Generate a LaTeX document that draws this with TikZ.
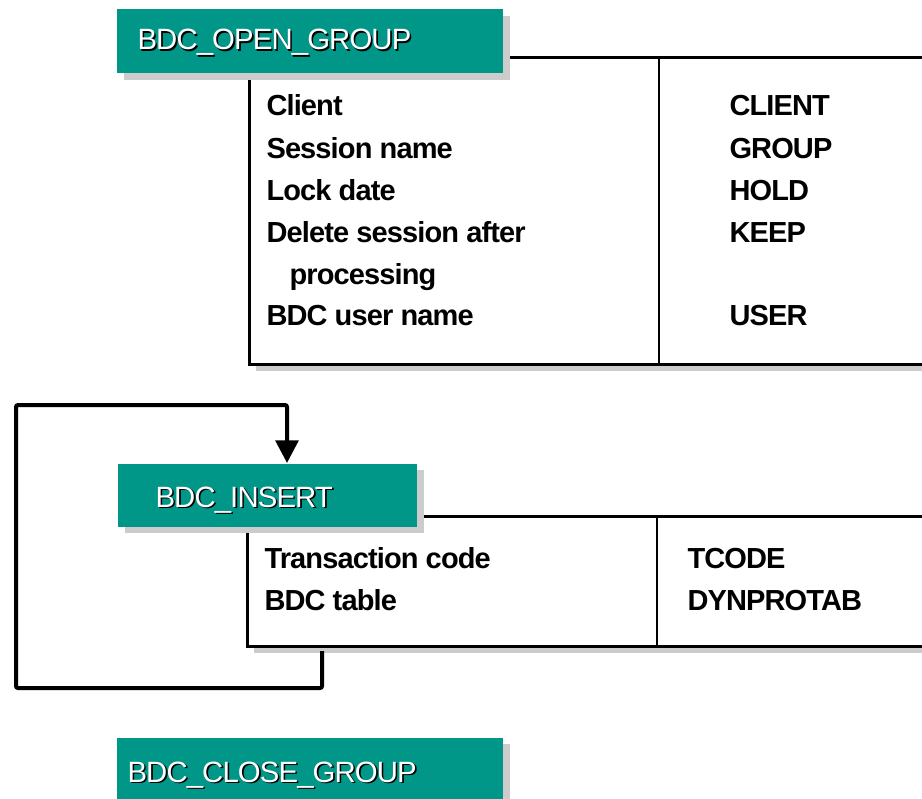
\documentclass[tikz,border=0pt]{standalone}
\usepackage{fontspec}
\setmainfont{Liberation Sans}[LetterSpace=-3]
\usetikzlibrary{arrows.meta,shadows}

\definecolor{sapteal}{RGB}{0,150,136}
\definecolor{shadegray}{RGB}{204,204,204}

\newcommand{\hdrlabel}[1]{\makebox[0pt][l]{\hspace{1.2pt}\raisebox{-1.2pt}{\textcolor{black}{#1}}}\textcolor{white}{#1}}

\tikzset{every picture/.style={line width=0.75pt},
  graysh/.style={drop shadow={shadow xshift=5.25pt,shadow yshift=-5pt,fill=shadegray,opacity=1}},
  hdrbox/.style={fill=sapteal,draw=none,anchor=north west,inner sep=0pt,graysh},
  hdrtext/.style={anchor=base west,inner sep=0pt,font=\fontsize{22}{26}\selectfont},
  tablebox/.style={draw=black,fill=white,line width=1.9pt,anchor=north west,inner sep=0pt,graysh},
  tableline/.style={draw=black,line width=1.9pt},
  celltext/.style={anchor=base west,inner sep=0pt,font=\fontsize{21.75}{26}\selectfont\bfseries},
  looparrow/.style={line width=3pt,rounded corners=1.5pt,-{Triangle[length=17pt,width=17pt]}}
}

\begin{document}
\begin{tikzpicture}[x=0.75pt,y=0.75pt,yscale=-1,xscale=1]
\useasboundingbox (0,0) rectangle (922,799);

%Shape: Table BDC_OPEN_GROUP
\node[tablebox,minimum width=519pt,minimum height=230.25pt] (opentab) at (248,56) {};
\draw[tableline] (659,56) -- (659,363);
%Shape: Header BDC_OPEN_GROUP
\node[hdrbox,minimum width=289.5pt,minimum height=48pt] (openhdr) at (116,9) {};
\node[hdrtext] (opentitle) at (137,50) {\hdrlabel{BDC\_OPEN\_GROUP}};

% Text Node
\node[celltext] (client) at (266,116) {Client};
\node[celltext] (session) at (266,158) {Session name};
\node[celltext] (lock) at (266,200) {Lock date};
\node[celltext] (delete) at (266,242) {Delete session after};
\node[celltext] (process) at (289,284) {processing};
\node[celltext] (user) at (266,325) {BDC user name};
\node[celltext] (pclient) at (729,116) {CLIENT};
\node[celltext] (pgroup) at (729,158) {GROUP};
\node[celltext] (phold) at (729,200) {HOLD};
\node[celltext] (pkeep) at (729,242) {KEEP};
\node[celltext] (puser) at (729,325) {USER};

%Shape: Table BDC_INSERT
\node[tablebox,minimum width=520.5pt,minimum height=97.5pt] (instab) at (246,515) {};
\draw[tableline] (657,515) -- (657,645);
%Shape: Header BDC_INSERT
\node[hdrbox,minimum width=224.25pt,minimum height=47.25pt] (inshdr) at (117,463) {};
\node[hdrtext] (instilte) at (155,507) {\hdrlabel{BDC\_INSERT}};

% Text Node
\node[celltext] (tcodetxt) at (264,568) {Transaction code};
\node[celltext] (tabletxt) at (264,610) {BDC table};
\node[celltext] (ptcode) at (687,568) {TCODE};
\node[celltext] (pdynpro) at (687,610) {DYNPROTAB};

%Straight Lines: loop back to BDC_INSERT
\coordinate (loopstart) at (322,651);
\coordinate (arrowend) at (287,463);
\draw[looparrow] (loopstart) -- (322,688) -| (16,405) -| (arrowend);

%Shape: Header BDC_CLOSE_GROUP
\node[hdrbox,minimum width=289.5pt,minimum height=52pt] (closehdr) at (116,737) {};
\node[hdrtext] (closetitle) at (127,782) {\hdrlabel{BDC\_CLOSE\_GROUP}};

\end{tikzpicture}
\end{document}
